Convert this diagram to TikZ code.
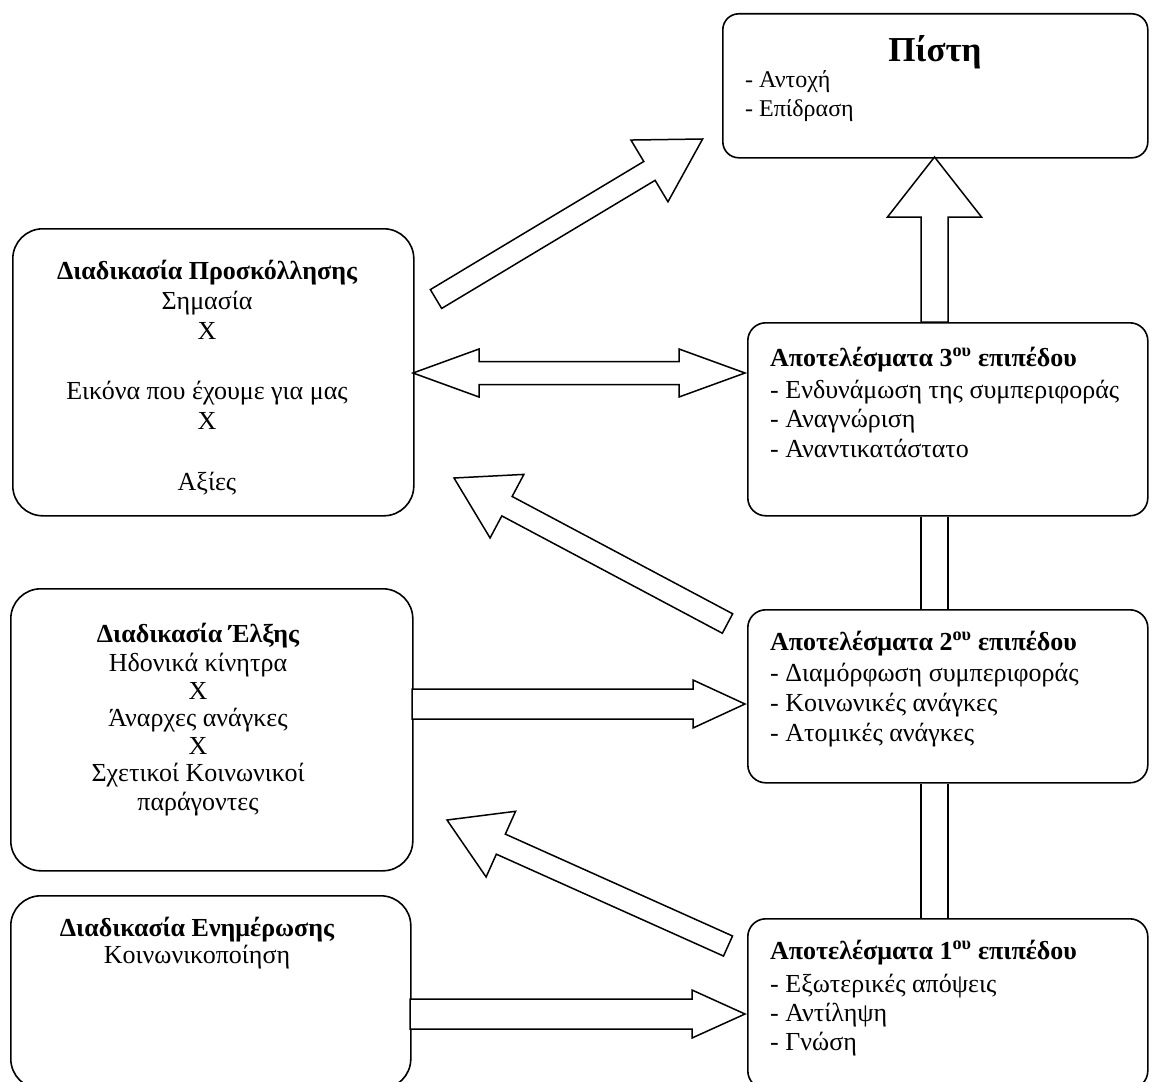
\documentclass[tikz,border=0pt]{standalone}
\usepackage{fontspec}
\setmainfont{Liberation Serif}
\usetikzlibrary{calc}
\tikzset{
  rbox/.style={draw, line width=1.6pt, rounded corners=18pt, anchor=north west, inner sep=0pt},
  lbox/.style={rbox, rounded corners=30pt},
  ltxt/.style={font=\fontsize{26}{30}\selectfont, anchor=base west, inner sep=0pt},
  ttl/.style={ltxt, font=\fontsize{26}{30}\selectfont\bfseries},
  ctxt/.style={font=\fontsize{26}{30}\selectfont, anchor=base, inner sep=0pt},
  cttl/.style={ctxt, font=\fontsize{26}{30}\selectfont\bfseries},
  barrow/.style={draw, line width=1.5pt, line join=miter, fill=white},
  barline/.style={draw, line width=1.6pt},
}
\newcommand\blockarr[5]{%
  \path ($(#2)!#5!(#1)$) coordinate (hb);
  \draw[barrow] ($(#1)!#3!90:(#2)$) -- ($(hb)!#3!90:(#2)$) -- ($(hb)!#4!90:(#2)$) -- (#2)
     -- ($(hb)!#4!-90:(#2)$) -- ($(hb)!#3!-90:(#2)$) -- ($(#1)!#3!-90:(#2)$) -- cycle;}
\newcommand\dblarr[5]{%
  \path ($(#1)!#5!(#2)$) coordinate (ha) ($(#2)!#5!(#1)$) coordinate (hb);
  \draw[barrow] (#1) -- ($(ha)!#4!90:(#2)$) -- ($(ha)!#3!90:(#2)$) -- ($(hb)!#3!90:(#2)$)
     -- ($(hb)!#4!90:(#2)$) -- (#2) -- ($(hb)!#4!-90:(#2)$) -- ($(hb)!#3!-90:(#2)$)
     -- ($(ha)!#3!-90:(#2)$) -- ($(ha)!#4!-90:(#2)$) -- cycle;}
\begin{document}
\begin{tikzpicture}[x=1pt,y=-1pt]
\useasboundingbox (0,0) rectangle (1161,1081);
% boxes
\node[rbox, rounded corners=16pt, minimum width=425pt, minimum height=144pt] (pist) at (722,13) {};
\node[lbox, minimum width=401pt, minimum height=287pt] (l1) at (12,228) {};
\node[lbox, minimum width=402pt, minimum height=282pt] (l2) at (10,588) {};
\node[lbox, minimum width=400pt, minimum height=193pt] (l3) at (10,895) {};
\node[rbox, minimum width=400pt, minimum height=193pt] (r3) at (747,322) {};
\node[rbox, minimum width=400pt, minimum height=173pt] (r2) at (747,609) {};
\node[rbox, minimum width=400pt, minimum height=170pt] (r1) at (747,918) {};
% texts
\node[cttl, font=\fontsize{35}{40}\selectfont\bfseries] (pt) at (935,62) {Πίστη};
\node[ltxt, font=\fontsize{24}{28}\selectfont] (pa) at (745,87) {- Αντοχή};
\node[ltxt, font=\fontsize{24}{28}\selectfont] (pb) at (745,116) {- Επίδραση};
\node[ttl] (r3t) at (770,366) {Αποτελέσματα 3\textsuperscript{ου} επιπέδου};
\node[ltxt] (r3a) at (770,398) {- Ενδυνάμωση της συμπεριφοράς};
\node[ltxt] (r3b) at (770,427) {- Αναγνώριση};
\node[ltxt] (r3c) at (770,457) {- Αναντικατάστατο};
\node[ttl] (r2t) at (770,650) {Αποτελέσματα 2\textsuperscript{ου} επιπέδου};
\node[ltxt] (r2a) at (770,681) {- Διαμόρφωση συμπεριφοράς};
\node[ltxt] (r2b) at (770,711) {- Κοινωνικές ανάγκες};
\node[ltxt] (r2c) at (770,741) {- Ατομικές ανάγκες};
\node[ttl] (r1t) at (770,959) {Αποτελέσματα 1\textsuperscript{ου} επιπέδου};
\node[ltxt] (r1a) at (770,992) {- Εξωτερικές απόψεις};
\node[ltxt] (r1b) at (770,1021) {- Αντίληψη};
\node[ltxt] (r1c) at (770,1050) {- Γνώση};
\node[cttl] (l1t) at (207,279) {Διαδικασία Προσκόλλησης};
\node[ctxt] (l1a) at (207,309) {Σημασία};
\node[ctxt] (l1b) at (207,339) {Χ};
\node[ctxt] (l1c) at (207,399) {Εικόνα που έχουμε για μας};
\node[ctxt] (l1d) at (207,429) {Χ};
\node[ctxt] (l1e) at (207,490) {Αξίες};
\node[cttl] (l2t) at (198,642) {Διαδικασία Έλξης};
\node[ctxt] (l2a) at (198,671) {Ηδονικά κίνητρα};
\node[ctxt] (l2b) at (198,699) {Χ};
\node[ctxt] (l2c) at (198,726) {Άναρχες ανάγκες};
\node[ctxt] (l2d) at (198,754) {Χ};
\node[ctxt] (l2e) at (198,781) {Σχετικοί Κοινωνικοί};
\node[ctxt] (l2f) at (198,810) {παράγοντες};
\node[cttl] (l3t) at (197,936) {Διαδικασία Ενημέρωσης};
\node[ctxt] (l3a) at (197,963) {Κοινωνικοποίηση};
% arrow end points
\coordinate (u0) at (934.5,322); \coordinate (u1) at (934.5,157);
\coordinate (d0) at (436,299);   \coordinate (d1) at (702.6,139);
\coordinate (h0) at (413,373);   \coordinate (h1) at (745,373);
\coordinate (e0) at (727.5,623.5); \coordinate (e1) at (454,478);
\coordinate (f0) at (728,946);   \coordinate (f1) at (447,820);
\coordinate (g0) at (412,704);   \coordinate (g1) at (745,704);
\coordinate (k0) at (410,1014);  \coordinate (k1) at (745,1014);
% arrows
\blockarr{u0}{u1}{13.5pt}{47pt}{60pt}
\blockarr{d0}{d1}{11pt}{36pt}{62pt}
\dblarr{h0}{h1}{11.5pt}{24pt}{66pt}
\blockarr{e0}{e1}{11pt}{36pt}{60pt}
\blockarr{f0}{f1}{11pt}{36pt}{59pt}
\blockarr{g0}{g1}{15pt}{24pt}{52pt}
\blockarr{k0}{k1}{15pt}{24pt}{53pt}
% vertical bar between result boxes
\draw[barline] (r3.south -| 921,0) -- (r2.north -| 921,0)
               (r3.south -| 948,0) -- (r2.north -| 948,0)
               (r2.south -| 921,0) -- (r1.north -| 921,0)
               (r2.south -| 948,0) -- (r1.north -| 948,0);
\end{tikzpicture}
\end{document}
